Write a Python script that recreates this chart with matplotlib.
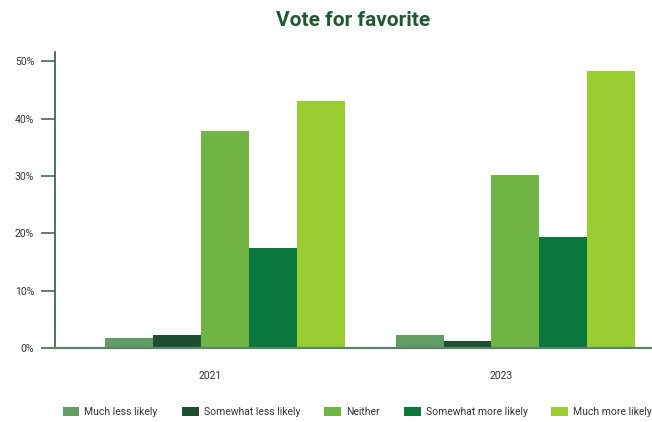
import matplotlib
matplotlib.use("Agg")
import matplotlib.pyplot as plt
import numpy as np
from matplotlib.ticker import FuncFormatter

years = ["2021", "2023"]
series = ["Much less likely", "Somewhat less likely", "Neither", "Somewhat more likely", "Much more likely"]
much_less = [1.7, 2.2]
somewhat_less = [2.2, 1.2]
neither = [37.9, 30.2]
somewhat_more = [17.4, 19.3]
much_more = [43.0, 48.3]
values = [much_less, somewhat_less, neither, somewhat_more, much_more]
colors = ["#619c65", "#1f4d33", "#70b543", "#0a783e", "#9acd32"]
yticks = [0, 10, 20, 30, 40, 50]

plt.rcParams['font.family'] = ['Roboto', 'DejaVu Sans']

fig = plt.figure(figsize=(6.52, 4.22), dpi=100)
ax = fig.add_axes([55/652, 74/422, 597/652, 296/422])

x = np.arange(len(years))
w = 0.165
shift = 0.05
for i, (name, vals, c) in enumerate(zip(series, values, colors)):
    ax.bar(x + shift + (i - 2) * w, vals, width=w, color=c, label=name, zorder=2)

ax.set_xlim(-0.535, 1.520)
ax.set_ylim(0, 51.6)
ax.set_yticks(yticks)
ax.yaxis.set_major_formatter(FuncFormatter(lambda v, p: f"{int(v)}%"))
ax.set_xticks(x)
ax.set_xticklabels(years)

for s in ["top", "right"]:
    ax.spines[s].set_visible(False)
ax.spines["left"].set_color("#2f5e3f")
ax.spines["left"].set_linewidth(1.2)
ax.spines["bottom"].set_color("#5a8468")
ax.spines["bottom"].set_linewidth(1.6)
ax.spines["bottom"].set_zorder(3)

ax.tick_params(axis="y", length=10, width=1.3, color="#4f7a5f", labelsize=7.5,
               labelcolor="#333333", pad=5)
ax.tick_params(axis="x", length=0, labelsize=7.5, labelcolor="#333333", pad=16.5)

ax.set_title("Vote for favorite", fontsize=15, fontweight="bold", color="#215732", pad=19)

leg = fig.legend(loc="center left", bbox_to_anchor=(62.5/652, 1 - 412/422), ncol=5, frameon=False,
                 fontsize=7.5, handlelength=1.63, handleheight=1.0, handletextpad=0.48,
                 columnspacing=2.3, borderaxespad=0, borderpad=0)
for t in leg.get_texts():
    t.set_color("#333333")

fig.savefig("out.png", dpi=100)
